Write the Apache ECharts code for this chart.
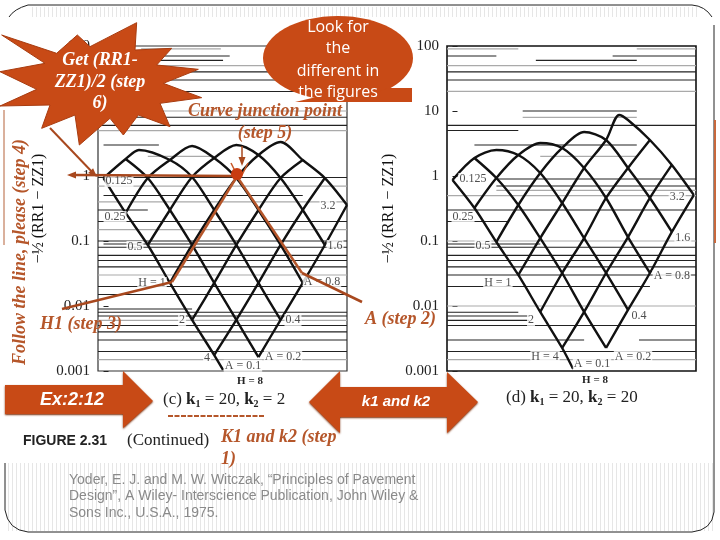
<!DOCTYPE html>
<html><head><meta charset="utf-8">
<script src="https://cdn.jsdelivr.net/npm/echarts@6/dist/echarts.min.js"></script>
<style>html,body{margin:0;padding:0;background:#fff}#c{width:720px;height:540px}</style>
</head><body><div id="c"></div>
<script>
const tickLabels=['0.001','0.01','0.1','1','10','100'];
// left panel curves: [position along x, value]
const leftCurves=[
 [[0,.93],[1,.27],[2,.0868],[3,.0226],[4,.0061],[5,.00176],[5.4,.00104]],
 [[1,1.83],[2,.93],[3,.30],[4,.0868],[5,.0226],[6,.0061],[7,.00164]],
 [[0,.93],[1,1.83],[1.6,2.51],[3,1.76],[4,.965],[5,.30],[6,.0868],[7,.0226],[8,.0061]],
 [[1,.27],[2,.93],[3,1.76],[4,2.89],[5,1.89],[6,.93],[7,.30],[8,.0868],[9,.0226]],
 [[2,.0868],[3,.30],[4,.965],[5,1.89],[6,3.0],[7,2.1],[8,.93],[9,.30],[10,.0868]],
 [[3,.0226],[4,.0868],[5,.30],[6,.93],[7,2.1],[8,3.33],[9,1.76],[10,.93],[11,.358]],
 [[4,.0061],[5,.0226],[6,.0868],[7,.30],[8,.93],[9,1.76]],
 [[5,.00176],[6,.0061],[7,.0226],[8,.0868],[9,.30],[10,.93]],
 [[7,.00164],[8,.0061],[9,.0226],[10,.0868],[11,.358]]
];
const rightCurves=[
 [[0,.868],[1,.322],[2,.0966],[3,.03],[4,.0081],[5,.00226],[5.5,.00107]],
 [[1,1.89],[2,.93],[3,.358],[4,.111],[5,.0322],[6,.0081],[7,.00226]],
 [[0,.868],[1,1.89],[2,2.51],[3,2.10],[4,1.11],[5,.384],[6,.111],[7,.0322],[8,.0087]],
 [[1,.322],[2,.93],[3,2.10],[4,3.22],[5,2.70],[6,1.33],[7,.459],[8,.115],[9,.0322]],
 [[2,.0966],[3,.358],[4,1.11],[5,2.70],[6,4.75],[7,3.58],[8,1.33],[9,.459],[10,.138]],
 [[3,.03],[4,.111],[5,.384],[6,1.33],[7,3.58],[7.6,8.68],[8,7.27],[9,3.58],[10,1.48],[11,.51]],
 [[4,.0081],[5,.0322],[6,.111],[7,.459],[8,1.33],[9,3.58]],
 [[5,.00226],[6,.0081],[7,.0322],[8,.115],[9,.459],[10,1.48]],
 [[7,.00226],[8,.0087],[9,.0322],[10,.138],[11,.51]]
];
// background rules: [value, from, to]
const leftDark=[[70,1.7,5.7],[60,2.5,5.4],[40,-.25,11],[30,-.25,11],[20,-.25,11],[8,-.25,11],[6,-.25,11],[3,0,2.5],[.95,-.25,11],[.5,0,9],[.3,-.25,2],[.2,-.25,11],[.1,-.25,11],[.09,0,6],[.08,-.25,11],[.06,-.25,11],[.05,-.25,11],[.04,-.25,11],[.02,-.25,11],[.015,-.25,11],[.009,-.25,4],[.008,-.25,11],[.007,-.25,11],[.005,-.25,11],[.004,-.25,11],[.003,-.25,11],[.002,-.25,11]];
const leftFaint=[[90,1.7,5.3],[50,-.25,11],[10,-.25,11],[5,-.25,11],[2,2,5],[.7,-.25,11],[.4,-.25,11],[.15,-.25,11],[.03,-.25,11],[.006,-.25,11],[.0015,-.25,11]];
const rightDark=[[70,-.25,2],[70,7.3,11.1],[60,3.8,8.4],[40,-.25,11.1],[30,-.25,11.1],[10,3.2,8.4],[6,-.25,11.1],[5,-.25,3],[3,1,8.4],[.9,2,11.1],[.7,2,11.1],[.3,-.25,11.1],[.2,-.25,2.5],[.09,-.25,4],[.08,-.25,11.1],[.06,-.25,11.1],[.05,-.25,11.1],[.04,-.25,11.1],[.03,-.25,11.1],[.02,-.25,9],[.008,-.25,3],[.007,-.25,3.5],[.006,-.25,3.5],[.005,-.25,11.1],[.003,-.25,6],[.003,8.5,11.1],[.002,-.25,11.1]];
const rightFaint=[[90,-.25,3],[90,8.4,11.1],[50,-.25,11.1],[20,-.25,11.1],[8,3.2,8.4],[2,4,8.4],[.6,2,11.1],[.5,-.25,11.1],[.1,-.25,11.1],[.01,-.25,11.1],[.0015,-.25,11.1]];
// printed point labels: [position, value, text]
const leftLabels=[[.70,.84,'0.125'],[.52,.234,'0.25'],[1.42,.081,'0.5'],[2.19,.0226,'H = 1'],[3.55,.0061,'2'],[4.68,.00158,'4'],[6.30,.0012,'A = 0.1'],[8.11,.00164,'A = 0.2'],[8.56,.0061,'0.4'],[9.87,.0234,'A = 0.8'],[10.46,.0838,'1.6'],[10.14,.346,'3.2']];
const rightLabels=[[.93,.90,'0.125'],[.48,.234,'0.25'],[1.39,.0838,'0.5'],[2.07,.0226,'H = 1'],[3.58,.0061,'2'],[4.22,.00164,'H = 4'],[6.36,.00128,'A = 0.1'],[8.23,.00164,'A = 0.2'],[8.5,.0071,'0.4'],[10,.029,'A = 0.8'],[10.5,.111,'1.6'],[10.24,.475,'3.2']];

const ORANGE='#C84A16', BROWN='#B5562A', SERIF='"Liberation Serif"', SANS='"Liberation Sans"';
function rules(list){const out=[];list.forEach(r=>{out.push([r[1],r[0]],[r[2],r[0]],['-','-']);});return out;}
function stripe(){const c=document.createElement('canvas');c.width=4;c.height=2;const g=c.getContext('2d');g.fillStyle='#fff';g.fillRect(0,0,4,2);g.fillStyle='#e6e6e6';g.fillRect(0,0,1,2);return c;}
const pat={image:stripe(),repeat:'repeat'};

function panel(i,curves,dark,faint,labels){
 const s=[];
 s.push({type:'line',xAxisIndex:i,yAxisIndex:i,data:rules(faint),symbol:'none',silent:true,z:1,lineStyle:{color:'#aaa',width:1.2}});
 s.push({type:'line',xAxisIndex:i,yAxisIndex:i,data:rules(dark),symbol:'none',silent:true,z:1,lineStyle:{color:'#222',width:1.1}});
 curves.forEach(c=>s.push({type:'line',xAxisIndex:i,yAxisIndex:i,data:c,symbol:'none',smooth:.3,z:3,lineStyle:{color:'#111',width:2.4}}));
 s.push({type:'scatter',xAxisIndex:i,yAxisIndex:i,data:labels,symbolSize:0,z:4,label:{show:true,position:'inside',formatter:p=>p.value[2],fontFamily:SERIF,fontSize:12,color:'#222',backgroundColor:'#fff',padding:[0,1]}});
 return s;
}
function yAxis(i,gap){return {type:'log',gridIndex:i,min:.001,max:100,logBase:10,splitLine:{show:false},
 axisLine:{show:false},axisTick:{show:true,inside:true,length:5,lineStyle:{color:'#222'}},
 axisLabel:{fontFamily:SERIF,fontSize:15,color:'#222',margin:8,formatter:v=>tickLabels[Math.round(Math.log10(v))+3]},
 name:'−½ (RR1 − ZZ1)',nameLocation:'middle',nameRotate:90,nameGap:gap,nameTextStyle:{fontFamily:SERIF,fontSize:16,color:'#111'}};}

function t(x,y,text,o){return {type:'text',z:100,x:x,y:y,style:Object.assign({text:text,textAlign:'left',textVerticalAlign:'middle'},o)};}
const boldIt=(fs,fill)=>({font:'italic bold '+fs+'px '+SERIF,fill:fill});
const tc=(x,y,text,font,fill)=>t(x,y,text,{font:font,fill:fill,textAlign:'center'});
function ln(a,b,c,d,color,w){return {type:'line',z:90,shape:{x1:a,y1:b,x2:c,y2:d},style:{stroke:color,lineWidth:w}};}
function head(x,y,dx,dy,color){const n=Math.hypot(dx,dy),u=dx/n,v=dy/n,L=9,W=3.5;return {type:'polygon',z:90,shape:{points:[[x,y],[x-u*L-v*W,y-v*L+u*W],[x-u*L+v*W,y-v*L-u*W]]},style:{fill:color}};}
const burst=[[5,105],[170,160],[232,105],[270,140],[410,68],[405,150],[515,145],[470,195],[595,208],[490,250],[605,293],[480,310],[510,380],[415,345],[370,405],[330,355],[238,435],[225,345],[125,385],[150,315],[0,318],[110,268],[0,215],[135,190]].map(p=>[p[0]/3,p[1]/3]);
const rich={b:{font:'bold 17px '+SERIF,fill:'#222'},s:{font:'bold 10px '+SERIF,fill:'#222',verticalAlign:'bottom',padding:[8,0,0,0]}};

const graphics=[
 {type:'rect',z:-5,shape:{x:30,y:7,width:668,height:10},style:{fill:pat}},
 {type:'rect',z:-5,shape:{x:6,y:463,width:708,height:68},style:{fill:pat}},
 ln(28,5,692,5,'#222',1),ln(714,25,714,512,'#222',1),ln(28,532,692,532,'#222',1),ln(5,463,5,510,'#222',1),
 {type:'bezierCurve',z:90,shape:{x1:9,y1:17,x2:28,y2:5,cpx1:14,cpy1:9},style:{stroke:'#222',lineWidth:1,fill:'none'}},
 {type:'bezierCurve',z:90,shape:{x1:692,y1:5,x2:712,y2:17,cpx1:705,cpy1:6},style:{stroke:'#222',lineWidth:1,fill:'none'}},
 {type:'bezierCurve',z:90,shape:{x1:714,y1:512,x2:692,y2:532,cpx1:712,cpy1:530},style:{stroke:'#222',lineWidth:1,fill:'none'}},
 {type:'bezierCurve',z:90,shape:{x1:5,y1:510,x2:28,y2:532,cpx1:8,cpy1:530},style:{stroke:'#222',lineWidth:1,fill:'none'}},
 ln(715,120,715,243,'#C8683C',2),
 ln(4,110,4,245,'#B5623A',1),
 {type:'polygon',z:95,shape:{points:burst},style:{fill:ORANGE,stroke:'#A83C10',lineWidth:1}},
 {type:'ellipse',z:95,shape:{cx:338,cy:58,rx:75,ry:42},style:{fill:ORANGE}},
 {type:'polygon',z:95,shape:{points:[[325,95],[378,92],[388,88],[412,88],[412,102],[295,102]]},style:{fill:ORANGE}},
 tc(338,27,'Look for','16px "Open Sans"','#fff'),tc(338,48,'the','16px "Open Sans"','#fff'),tc(338,71,'different in','16px "Open Sans"','#fff'),tc(338,92,'the figures','16px "Open Sans"','#fff'),
 tc(100,60,'Get (RR1-','italic bold 18px '+SERIF,'#fff'),tc(100,82,'ZZ1)/2 (step','italic bold 18px '+SERIF,'#fff'),tc(100,103,'6)','italic bold 18px '+SERIF,'#fff'),
 tc(265,111,'Curve junction point','italic bold 18px '+SERIF,BROWN),tc(265,133,'(step 5)','italic bold 18px '+SERIF,BROWN),
 ln(50,128,95,175,'#A8481E',2),head(97,177,1,1,'#A8481E'),
 ln(237,176,75,175,'#A8481E',2.5),head(67,175,-1,0,'#A8481E'),
 ln(242,146,242,160,'#A8481E',1.5),head(242,166,0,1,'#A8481E'),
 ln(231,163,237,175,'#C85A2A',1.5),ln(248,163,242,175,'#C85A2A',1.5),
 ln(236,178,172,282,'#B5562A',2.5),ln(238,178,302,273,'#B5562A',2.5),
 ln(172,282,62,309,'#A8481E',2.5),ln(302,273,362,302,'#A8481E',2.5),
 {type:'circle',z:92,shape:{cx:237,cy:174,r:6},style:{fill:'#C83C10'}},
 {type:'text',z:100,x:20,y:252,rotation:Math.PI/2,style:{text:'Follow the line, please (step 4)',font:'italic bold 18px '+SERIF,fill:BROWN,textAlign:'center',textVerticalAlign:'middle'}},
 t(40,324,'H1 (step 3)',boldIt(18,BROWN)),t(365,319,'A (step 2)',boldIt(18,BROWN)),
 t(221,437,'K1 and k2 (step',boldIt(18,BROWN)),t(221,459,'1)',boldIt(18,BROWN)),
 {type:'polygon',z:95,shape:{points:[[5,385],[123,385],[123,371],[153,401],[123,428],[123,414],[5,414]]},style:{fill:ORANGE,shadowBlur:2,shadowColor:'#7a2c08',shadowOffsetY:1}},
 tc(72,400,'Ex:2:12','italic bold 18px '+SANS,'#fff'),
 {type:'polygon',z:95,shape:{points:[[309,402],[340,371],[340,387],[447,387],[447,372],[478,402],[447,433],[447,417],[340,417],[340,433]]},style:{fill:ORANGE,shadowBlur:2,shadowColor:'#7a2c08',shadowOffsetY:1}},
 tc(396,402,'k1 and k2','italic bold 15px '+SANS,'#fff'),
 {type:'line',z:90,shape:{x1:168,y1:416,x2:265,y2:416},style:{stroke:BROWN,lineWidth:2,lineDash:[5,1.5]}},
 tc(250,381,'H = 8','bold 11px '+SERIF,'#222'),tc(595,380,'H = 8','bold 11px '+SERIF,'#222'),
 {type:'text',z:100,x:163,y:400,style:{text:'(c) {b|k}{s|1} = 20, {b|k}{s|2} = 2',rich:rich,font:'17px '+SERIF,fill:'#222',textVerticalAlign:'middle'}},
 {type:'text',z:100,x:506,y:398,style:{text:'(d) {b|k}{s|1} = 20, {b|k}{s|2} = 20',rich:rich,font:'17px '+SERIF,fill:'#222',textVerticalAlign:'middle'}},
 t(23,441,'FIGURE 2.31',{font:'bold 14px '+SANS,fill:'#222'}),t(127,441,'(Continued)',{font:'17px '+SERIF,fill:'#222'}),
 t(69,480,'Yoder, E. J. and M. W. Witczak, “Principles of Pavement',{font:'14px '+SANS,fill:'#8a8a8a'}),
 t(69,496,'Design”, A Wiley- Interscience Publication, John Wiley &',{font:'14px '+SANS,fill:'#8a8a8a'}),
 t(69,513,'Sons Inc., U.S.A., 1975.',{font:'14px '+SANS,fill:'#8a8a8a'})
];

const chart=echarts.init(document.getElementById('c'),null,{renderer:'canvas'});
chart.setOption({
 animation:false,backgroundColor:'#fff',
 grid:[{left:98,top:46,width:249,height:325,show:true,borderColor:'#333',borderWidth:1.2,backgroundColor:'transparent'},
       {left:447,top:46,width:249,height:325,show:true,borderColor:'#111',borderWidth:1.6,backgroundColor:'transparent'}],
 xAxis:[{type:'value',gridIndex:0,min:-.25,max:11,show:false},{type:'value',gridIndex:1,min:-.25,max:11.1,show:false}],
 yAxis:[yAxis(0,51),yAxis(1,50)],
 series:[...panel(0,leftCurves,leftDark,leftFaint,leftLabels),...panel(1,rightCurves,rightDark,rightFaint,rightLabels)],
 graphic:{elements:graphics}
});
</script></body></html>
